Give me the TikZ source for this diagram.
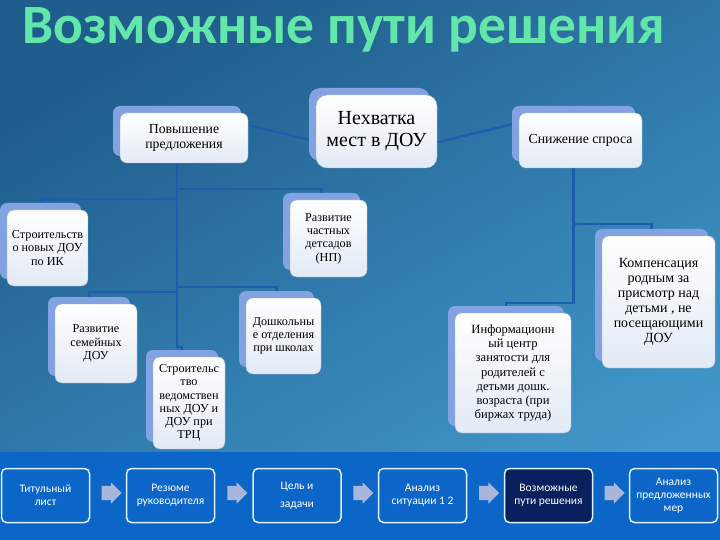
\documentclass[tikz,border=0pt]{standalone}
\usepackage{fontspec}
\setmainfont{Liberation Serif}
\newfontfamily\cardfont{Liberation Serif}
\newfontfamily\headfont{Carlito}
\usetikzlibrary{shapes.arrows,shadows,backgrounds,calc}
\definecolor{bgtop}{HTML}{1F5D8C}
\definecolor{bgbot}{HTML}{4298CB}
\definecolor{band}{HTML}{0C66C8}
\definecolor{cardb}{HTML}{82A2E2}
\definecolor{boxlo}{HTML}{E2EAF5}
\definecolor{boxedge}{HTML}{9FB2D0}
\definecolor{linkc}{HTML}{1D5DAE}
\definecolor{headc}{HTML}{62E6AA}
\definecolor{stepedge}{HTML}{DDF3FF}
\definecolor{navy}{HTML}{08205E}
\definecolor{arrowc}{HTML}{A9B6DB}
\pgfdeclarelayer{backdrop}
\pgfsetlayers{backdrop,background,main}

\begin{document}
\begin{tikzpicture}[
  x=1pt, y=-1pt,
  card/.style={rounded corners=7pt, align=center, inner sep=1pt, top color=white, bottom color=boxlo, draw=boxedge, line width=.4pt,
    copy shadow={shadow xshift=-7pt, shadow yshift=7pt, fill=cardb, draw=none}},
  bigtxt/.style={font=\cardfont\fontsize{20}{22}\selectfont},
  midtxt/.style={font=\cardfont\fontsize{13.8}{14.5}\selectfont},
  smalltxt/.style={font=\cardfont\fontsize{12.2}{13.3}\selectfont},
  link/.style={draw=linkc, line width=2.2pt},
  stepbox/.style={draw=stepedge, line width=1.5pt, rounded corners=5pt, fill=band, minimum width=88pt, minimum height=54pt, align=center, text=white, font=\headfont\fontsize{11.5}{13}\selectfont},
  curstep/.style={stepbox, fill=navy},
  nextarrow/.style={single arrow, single arrow head extend=3.5pt, minimum height=20pt, inner xsep=0pt, inner ysep=7pt, fill=arrowc, draw=none},
  title/.style={font=\headfont\bfseries\fontsize{55.5}{60}\selectfont, text=headc, anchor=base west, inner sep=0pt},
]
\useasboundingbox (0,0) rectangle (720,540);

\begin{pgfonlayer}{backdrop}
  \fill[top color=bgtop, bottom color=bgbot, shading angle=30] (0,0) rectangle (720,540);
  \fill[band] (0,452) rectangle (720,540);
\end{pgfonlayer}

\node[title] (head) at (22,44) {Возможные пути решения};

% ---------------- problem and the two directions
\node[card, bigtxt, rounded corners=11pt, minimum width=121pt, minimum height=73pt] (need) at (376.5,131.5) {Нехватка\\мест в ДОУ};
\node[card, midtxt, minimum width=128pt, minimum height=50pt] (raise) at (184,138) {Повышение\\предложения};
\node[card, midtxt, minimum width=123pt, minimum height=55pt] (reduce) at (580.5,140.5) {Снижение спроса};

% ---------------- supply side
\node[card, smalltxt, minimum width=77pt, minimum height=77pt] (private) at (328.5,238.5) {Развитие\\частных\\детсадов\\(НП)};
\node[card, smalltxt, minimum width=81pt, minimum height=76pt] (build) at (47.5,248) {Строительств\\о новых ДОУ\\по ИК};
\node[card, smalltxt, minimum width=82pt, minimum height=79pt] (family) at (96,343.5) {Развитие\\семейных\\ДОУ};
\node[card, smalltxt, minimum width=75pt, minimum height=76pt] (school) at (283.5,336) {Дошкольны\\е отделения\\при школах};
\node[card, smalltxt, minimum width=72pt, minimum height=92pt] (dept) at (189,403) {Строительс\\тво\\ведомствен\\ных ДОУ и\\ДОУ при\\ТРЦ};

% ---------------- demand side
\node[card, font=\cardfont\fontsize{12.6}{14.1}\selectfont, minimum width=116pt, minimum height=120pt] (info) at (513,373) {Информационн\\ый центр\\занятости для\\родителей с\\детьми дошк.\\возраста (при\\биржах труда)};
\node[card, font=\cardfont\fontsize{14}{15}\selectfont, minimum width=113pt, minimum height=132pt] (comp) at (658.5,302) {Компенсация\\родным за\\присмотр над\\детьми , не\\посещающими\\ДОУ};

% ---------------- links
\coordinate (rtrunk) at ([xshift=-7pt]raise.south);
\coordinate (strunk) at ([xshift=-7pt]reduce.south);
\begin{scope}[on background layer]
  \draw[link] ([yshift=13pt]raise.east) -- ([yshift=-10pt]need.west);
  \draw[link] ([yshift=-11pt]need.east) -- ([yshift=18pt]reduce.west);
  \draw[link] (rtrunk |- 0,189) -| ([xshift=-7pt,yshift=7pt]private.north);
  \draw[link] (rtrunk |- 0,199) -| ([xshift=-7pt,yshift=7pt]build.north);
  \draw[link] (rtrunk |- 0,287) -| ([xshift=-7pt,yshift=7pt]school.north);
  \draw[link] (rtrunk |- 0,292) -| ([xshift=-7pt,yshift=7pt]family.north);
  \draw[link] (rtrunk) -- (rtrunk |- 0,347) -| ([xshift=-7pt,yshift=7pt]dept.north);
  \draw[link] (strunk |- 0,224) -| ([xshift=-7pt,yshift=7pt]comp.north);
  \draw[link] (strunk) -- (strunk |- 0,303) -| ([xshift=-7pt,yshift=7pt]info.north);
\end{scope}

% ---------------- plan steps
\node[stepbox] (cover)    at (45.5,495.5)  {Титульный\\лист};
\node[stepbox] (summary)  at (170.5,495.5) {Резюме\\руководителя};
\node[stepbox] (goals)    at (297,495.5)   {Цель и\\[5pt]задачи};
\node[stepbox] (analysis) at (422.5,495.5) {Анализ\\ситуации 1 2};
\node[curstep] (ways)     at (548.5,495.5) {Возможные\\пути решения};
\node[stepbox] (review)   at (673.5,495.5) {Анализ\\предложенных\\мер};

\node[nextarrow] (arr1) at ($(cover.east)!.5!(summary.west)+(0,-2.5)$) {};
\node[nextarrow] (arr2) at ($(summary.east)!.5!(goals.west)+(0,-2.5)$) {};
\node[nextarrow] (arr3) at ($(goals.east)!.5!(analysis.west)+(0,-2.5)$) {};
\node[nextarrow] (arr4) at ($(analysis.east)!.5!(ways.west)+(0,-2.5)$) {};
\node[nextarrow] (arr5) at ($(ways.east)!.5!(review.west)+(0,-2.5)$) {};

\end{tikzpicture}
\end{document}
